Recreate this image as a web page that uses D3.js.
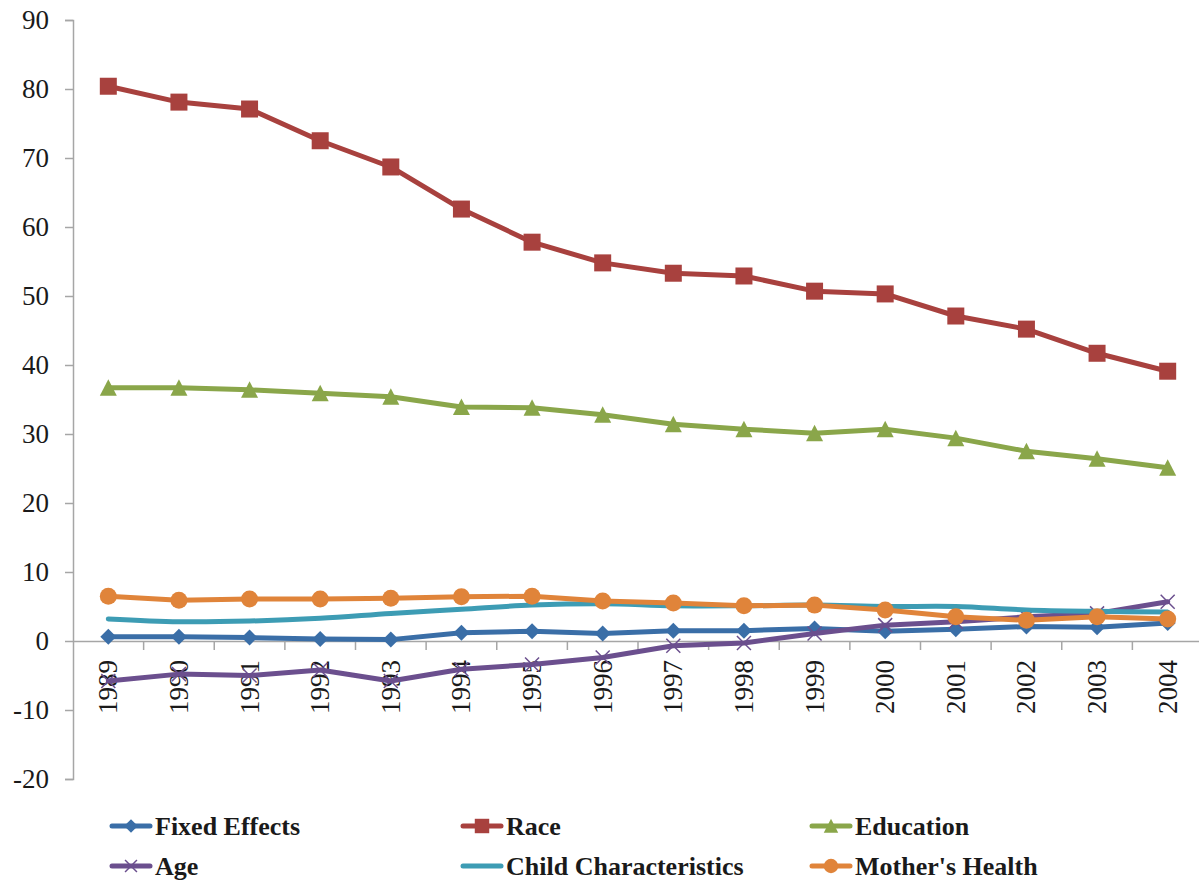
<!DOCTYPE html>
<html><head><meta charset="utf-8">
<script src="https://cdn.jsdelivr.net/npm/d3@7"></script>
</head><body style="margin:0;background:#ffffff">
<svg id="chart" width="1199" height="884" style="display:block"></svg>
<script>
const years = ["1989","1990","1991","1992","1993","1994","1995","1996","1997","1998","1999","2000","2001","2002","2003","2004"];
const yTicks = [-20,-10,0,10,20,30,40,50,60,70,80,90];
const seriesNames = ["Fixed Effects","Race","Education","Age","Child Characteristics","Mother's Health"];
const fixedEffects = [0.6,0.6,0.5,0.3,0.2,1.2,1.4,1.1,1.5,1.5,1.8,1.4,1.7,2.1,2.0,2.6];
const race = [80.4,78.1,77.1,72.5,68.7,62.6,57.8,54.8,53.3,52.9,50.7,50.3,47.1,45.2,41.7,39.1];
const education = [36.7,36.7,36.4,35.9,35.4,33.9,33.8,32.8,31.4,30.7,30.1,30.7,29.4,27.5,26.4,25.1];
const age = [-5.8,-4.8,-5.0,-4.2,-5.8,-4.1,-3.4,-2.4,-0.7,-0.3,1.1,2.3,2.8,3.5,4.0,5.7];
const childChar = [3.2,2.8,2.9,3.3,4.0,4.6,5.2,5.4,5.1,5.1,5.2,5.0,5.0,4.5,4.3,4.2];
const mothersHealth = [6.5,5.9,6.1,6.1,6.2,6.4,6.5,5.8,5.5,5.1,5.2,4.5,3.5,3.0,3.5,3.2];
const colors = ["#3A6EA7","#A8413E","#8AA64A","#6B4F8E","#3D9CB4","#E0843A"];
const markers = ["diamond","square","triangle","x","none","circle"];
const values = [fixedEffects, race, education, age, childChar, mothersHealth];

const svg = d3.select("#chart");
const FONT = '"Liberation Serif"';
const x = d3.scaleBand().domain(years).range([73, 1203]);
const y = d3.scaleLinear().domain([-20, 90]).range([779, 20]);
const axisColor = "#A6A6A6";
const cx = d => x(d) + x.bandwidth()/2;

// Y axis (line + ticks from d3 axis, labels as own text)
const ya = svg.append("g").attr("transform","translate(73,0)")
  .call(d3.axisLeft(y).tickValues(yTicks).tickSize(8).tickFormat(""));
ya.select(".domain").attr("stroke",axisColor).attr("stroke-width",1.5);
ya.selectAll(".tick line").attr("stroke",axisColor).attr("stroke-width",1.5);
svg.append("g").selectAll("text").data(yTicks).join("text")
  .attr("x",49).attr("y",d=>y(d)+9).attr("text-anchor","end")
  .style("font-family",FONT).style("font-size","27px").style("fill","#1a1a1a")
  .text(d=>d);

// X axis at y=0
const xa = svg.append("g").attr("transform",`translate(0,${y(0)})`)
  .call(d3.axisBottom(x).tickSize(0).tickFormat(""));
xa.select(".domain").attr("stroke",axisColor).attr("stroke-width",1.5);
xa.selectAll(".tick").remove();
svg.append("g").selectAll("line").data(years.slice(1).concat(["__end"]))
  .join("line")
  .attr("x1",d=> d==="__end" ? x.range()[1] : x(d))
  .attr("x2",d=> d==="__end" ? x.range()[1] : x(d))
  .attr("y1",y(0)).attr("y2",y(0)+9)
  .attr("stroke",axisColor).attr("stroke-width",1.5);
svg.append("g").selectAll("text").data(years).join("text")
  .attr("transform",d=>`translate(${cx(d)+9},${y(0)+19}) rotate(-90)`)
  .attr("text-anchor","end")
  .style("font-family",FONT).style("font-size","27px").style("fill","#1a1a1a")
  .text(d=>d);

function markerPath(type, s){
  switch(type){
    case "diamond": return `M0,${-8*s}L${8*s},0L0,${8*s}L${-8*s},0Z`;
    case "square": return `M${-8.5*s},${-8.5*s}h${17*s}v${17*s}h${-17*s}Z`;
    case "triangle": return `M0,${-8.5*s}L${8.5*s},${8*s}L${-8.5*s},${8*s}Z`;
    case "circle": return d3.symbol(d3.symbolCircle, Math.PI*8.5*8.5*s*s)();
    case "x": return `M${-7*s},${-7*s}L${7*s},${7*s}M${-7*s},${7*s}L${7*s},${-7*s}`;
    default: return "";
  }
}
function drawMarker(g, type, color, s){
  if(type==="none") return;
  const p = g.append("path").attr("d", markerPath(type,s));
  if(type==="x") p.attr("fill","none").attr("stroke",color).attr("stroke-width",1.5);
  else p.attr("fill",color);
}

values.forEach((vals,i)=>{
  const data = years.map((yr,j)=>({yr, v: vals[j]}));
  const line = d3.line().x(d=>cx(d.yr)).y(d=>y(d.v))
    .curve(markers[i]==="none" ? d3.curveCatmullRom.alpha(0.5) : d3.curveLinear);
  const g = svg.append("g");
  g.append("path").datum(data).attr("d",line)
    .attr("fill","none").attr("stroke",colors[i]).attr("stroke-width",5)
    .attr("stroke-linejoin","round").attr("stroke-linecap","round");
  data.forEach(d=>{
    const mg = g.append("g").attr("transform",`translate(${cx(d.yr)},${y(d.v)})`);
    drawMarker(mg, markers[i], colors[i], 1);
  });
});

// Legend
const legendX = [112, 463, 812];
const legendY = [826, 866];
seriesNames.forEach((name,i)=>{
  const lx = legendX[i%3], ly = legendY[Math.floor(i/3)];
  const g = svg.append("g").attr("transform",`translate(${lx},${ly})`);
  g.append("line").attr("x1",0).attr("x2",38).attr("y1",0).attr("y2",0)
    .attr("stroke",colors[i]).attr("stroke-width",5).attr("stroke-linecap","round");
  const mg = g.append("g").attr("transform","translate(19,0)");
  drawMarker(mg, markers[i], colors[i], 0.85);
  g.append("text").attr("x",43).attr("y",9)
    .style("font-family",FONT).style("font-weight","bold").style("font-size","26px")
    .style("fill","#1a1a1a").text(name);
});
</script></body></html>
